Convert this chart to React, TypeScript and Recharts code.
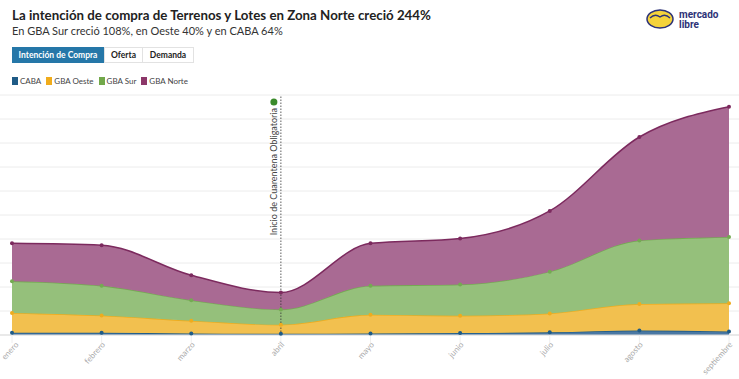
import React from 'react';
import { AreaChart, Area, XAxis, YAxis, CartesianGrid, ReferenceLine } from 'recharts';

// Monthly purchase-intent index per zone
const months = ['enero', 'febrero', 'marzo', 'abril', 'mayo', 'junio', 'julio', 'agosto', 'septiembre'];
const caba = [0.9, 0.9, 0.6, 0.5, 0.6, 0.8, 1.1, 1.9, 1.5];
const gbaOeste = [8.3, 7.2, 5.3, 3.8, 7.8, 7.2, 7.9, 11.0, 11.7];
const gbaSur = [13.2, 12.4, 8.6, 6.3, 12.1, 13.0, 17.4, 26.5, 27.6];
const gbaNorte = [15.8, 16.9, 10.4, 7.1, 17.7, 19.2, 25.3, 43.1, 54.3];
const yTicks = [0, 10, 20, 30, 40, 50, 60, 70, 80, 90, 100];

const data = months.map((m, i) => ({
  month: m,
  caba: caba[i],
  oeste: gbaOeste[i],
  sur: gbaSur[i],
  norte: gbaNorte[i],
}));

const series = [
  { key: 'caba', name: 'CABA', stroke: '#1f5b86', fill: '#4a78a3', legend: '#1f5b86' },
  { key: 'oeste', name: 'GBA Oeste', stroke: '#eeac1e', fill: '#f2c04f', legend: '#f0ac1c' },
  { key: 'sur', name: 'GBA Sur', stroke: '#74aa52', fill: '#95c07b', legend: '#72a84a' },
  { key: 'norte', name: 'GBA Norte', stroke: '#7c2a5e', fill: '#a96a93', legend: '#8c3769' },
];

const font = 'Lato, "Open Sans", sans-serif';

const MonthTick = ({ x, y, payload, index }: any) => {
  // keep the first label inside the left edge
  const tx = x + (index === 0 ? 7 : 4);
  return (
    <text
      x={tx}
      y={y}
      transform={`rotate(-48 ${tx} ${y})`}
      textAnchor="end"
      fontSize={8.2}
      fill="#aaa"
      fontFamily={font}
    >
      {payload.value}
    </text>
  );
};

const QuarantineLabel = ({ viewBox }: any) => {
  const x = viewBox.x;
  return (
    <g>
      <circle cx={x - 7} cy={102} r={3.5} fill="#3a8a2a" />
      <text
        x={x - 4}
        y={108}
        transform={`rotate(-90 ${x - 4} 108)`}
        textAnchor="end"
        fontSize={9}
        fill="#444"
        fontFamily={font}
      >
        Inicio de Cuarentena Obligatoria
      </text>
    </g>
  );
};

const Logo = () => (
  <svg width={80} height={26} style={{ position: 'absolute', left: 646, top: 7 }}>
    <ellipse cx={14} cy={12} rx={13} ry={9} fill="#f5d33b" stroke="#2d3277" strokeWidth={1.5} />
    <path d="M4 11 Q9 6 14 10 Q19 6 24 11" fill="none" stroke="#2d3277" strokeWidth={1.3} />
    <text x={33} y={11} fontSize={10} fontWeight={700} fill="#2d3277" fontFamily="Roboto, sans-serif">mercado</text>
    <text x={33} y={21} fontSize={10} fontWeight={700} fill="#2d3277" fontFamily="Roboto, sans-serif">libre</text>
  </svg>
);

export default function App() {
  return (
    <div style={{ position: 'absolute', left: 0, top: 0, width: 739, height: 379, background: '#fff', fontFamily: font, overflow: 'hidden' }}>
      <div style={{ position: 'absolute', left: 12, top: 7, fontSize: 13.3, fontWeight: 700, color: '#222', whiteSpace: 'nowrap' }}>
        La intención de compra de Terrenos y Lotes en Zona Norte creció 244%
      </div>
      <div style={{ position: 'absolute', left: 12, top: 24, fontSize: 11, color: '#333', whiteSpace: 'nowrap' }}>
        En GBA Sur creció 108%, en Oeste 40% y en CABA 64%
      </div>
      <Logo />

      {/* tabs */}
      <div style={{ position: 'absolute', left: 12, top: 47, display: 'flex', fontSize: 8.5, fontWeight: 700, height: 16, whiteSpace: 'nowrap' }}>
        <div style={{ background: '#2577a8', color: '#fff', lineHeight: '16px', width: 92, textAlign: 'center' }}>Intención de Compra</div>
        <div style={{ border: '1px solid #e2e2e2', color: '#222', lineHeight: '14px', width: 37, textAlign: 'center' }}>Oferta</div>
        <div style={{ border: '1px solid #e2e2e2', borderLeft: 'none', color: '#222', lineHeight: '14px', width: 50, textAlign: 'center' }}>Demanda</div>
      </div>

      {/* legend */}
      <div style={{ position: 'absolute', left: 12, top: 76, display: 'flex', fontSize: 8, color: '#444', whiteSpace: 'nowrap' }}>
        {series.map((s) => (
          <div key={s.key} style={{ display: 'flex', alignItems: 'center', marginRight: 5 }}>
            <span style={{ display: 'inline-block', width: 6, height: 8, background: s.legend, marginRight: 2 }} />
            {s.name}
          </div>
        ))}
      </div>

      <div style={{ position: 'absolute', left: 0, top: 0 }}>
        <AreaChart width={739} height={379} data={data} margin={{ top: 95, right: 0, bottom: 0, left: 0 }}>
          <CartesianGrid stroke="#ececec" vertical={false} />
          <XAxis
            dataKey="month"
            height={44}
            padding={{ left: 12, right: 10 }}
            axisLine={{ stroke: '#ddd' }}
            tickLine={{ stroke: '#eee' }}
            tickSize={8}
            tick={<MonthTick />}
            interval={0}
          />
          <YAxis hide domain={[0, 100]} ticks={yTicks} />
          {series.map((s) => (
            <Area
              key={s.key}
              type="monotone"
              dataKey={s.key}
              name={s.name}
              stackId="1"
              stroke={s.stroke}
              strokeWidth={1.5}
              fill={s.fill}
              fillOpacity={1}
              dot={{ r: 2, fill: s.stroke, stroke: s.stroke, strokeWidth: 0 }}
              isAnimationActive={false}
            />
          ))}
          <ReferenceLine x="abril" stroke="#333" strokeDasharray="1.5 1.5" strokeWidth={0.8} label={<QuarantineLabel />} />
        </AreaChart>
      </div>
    </div>
  );
}
